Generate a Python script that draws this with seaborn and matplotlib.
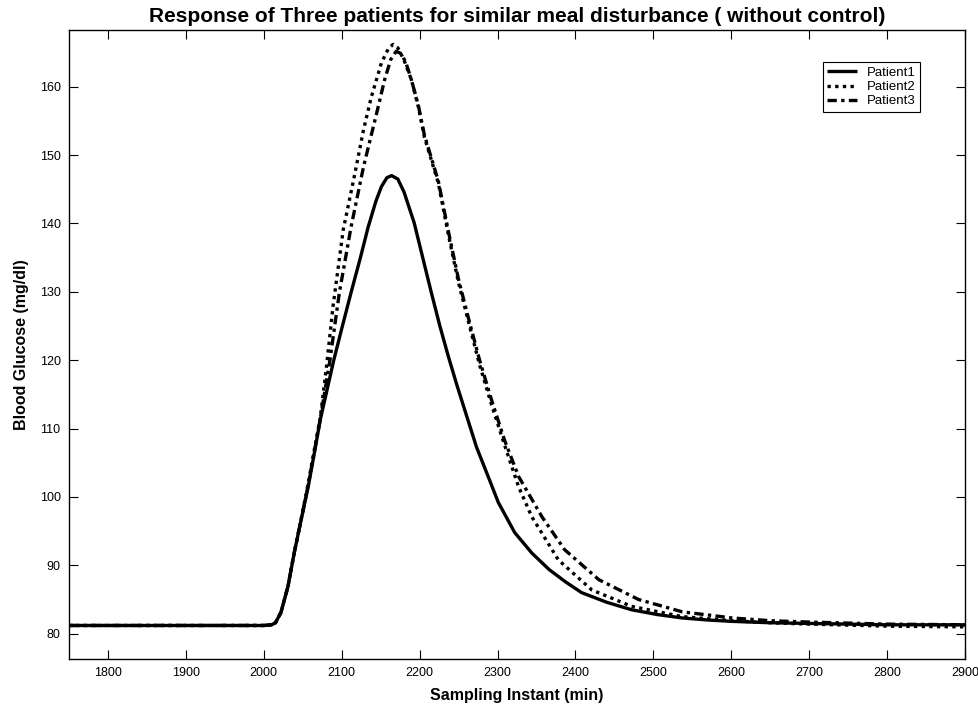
import matplotlib
matplotlib.use("Agg")
import matplotlib.pyplot as plt
import seaborn as sns
import pandas as pd

# ---- data ----
p1_x = [1750, 1850, 1950, 2000, 2010, 2015, 2022, 2031, 2039, 2048, 2057, 2065, 2072.5,
        2090, 2100, 2112, 2124, 2134, 2144, 2151, 2158, 2164, 2172, 2180, 2193, 2204,
        2215, 2226, 2237, 2248, 2258, 2273, 2290, 2301, 2322, 2344, 2366, 2387, 2408,
        2440, 2472, 2505, 2537, 2570, 2601, 2650, 2700, 2800, 2900]
p1_y = [81.2, 81.2, 81.2, 81.2, 81.3, 81.6, 83.1, 86.9, 91.8, 96.7, 101.5, 106.5, 111.3,
        120.1, 124.6, 129.9, 135.0, 139.5, 143.3, 145.4, 146.7, 147.0, 146.5, 144.6, 140.1, 135.0,
        129.9, 125.0, 120.5, 116.3, 112.7, 107.3, 102.4, 99.2, 94.8, 91.8, 89.4, 87.6, 86.0,
        84.6, 83.5, 82.8, 82.3, 82.0, 81.8, 81.6, 81.5, 81.3, 81.3]

p2_x = [1750, 1850, 1950, 2000, 2010, 2015, 2022, 2031, 2039, 2048, 2057, 2065, 2072.5,
        2080, 2089, 2102, 2116, 2128, 2138, 2151, 2160, 2166, 2172, 2180, 2189.5, 2198.5,
        2206, 2215, 2224, 2237, 2250, 2263, 2277, 2292, 2309, 2327, 2344, 2378, 2421,
        2472, 2537, 2601, 2650, 2700, 2800, 2900]
p2_y = [81.2, 81.2, 81.2, 81.2, 81.3, 81.6, 83.1, 86.9, 91.8, 96.8, 102.0, 107.0, 111.6,
        118.6, 128.0, 139.1, 146.8, 153.7, 158.5, 163.5, 165.6, 166.2, 165.7, 163.9, 161.0, 157.0,
        152.7, 149.3, 145.9, 138.3, 131.3, 125.5, 119.3, 113.6, 107.6, 101.5, 97.1, 90.8, 86.4,
        84.0, 82.5, 81.9, 81.6, 81.4, 81.1, 81.0]

p3_x = [1750, 1850, 1950, 2000, 2010, 2015, 2022, 2031, 2039, 2048, 2057, 2065, 2072.5,
        2085, 2097, 2112, 2128, 2145, 2155, 2163, 2170, 2177, 2183, 2189.5, 2198.5,
        2206, 2215, 2224, 2237, 2250, 2263, 2277, 2292, 2309, 2327, 2357, 2386, 2430,
        2481, 2537, 2601, 2650, 2700, 2800, 2900]
p3_y = [81.2, 81.2, 81.2, 81.2, 81.3, 81.6, 83.1, 86.9, 91.8, 96.7, 101.7, 106.7, 111.4,
        120.1, 129.9, 139.5, 148.3, 156.2, 161.0, 164.0, 165.2, 164.8, 163.3, 161.0, 157.2,
        153.0, 149.6, 146.2, 138.8, 131.8, 126.0, 120.0, 114.3, 108.3, 103.0, 97.1, 92.3, 87.9,
        85.0, 83.2, 82.3, 81.9, 81.7, 81.4, 81.3]

series_names = ["Patient1", "Patient2", "Patient3"]
x_ticks = [1800, 1900, 2000, 2100, 2200, 2300, 2400, 2500, 2600, 2700, 2800, 2900]
y_ticks = [80, 90, 100, 110, 120, 130, 140, 150, 160]

frames = []
for name, xs, ys in zip(series_names, [p1_x, p2_x, p3_x], [p1_y, p2_y, p3_y]):
    frames.append(pd.DataFrame({"t": xs, "bg": ys, "patient": name}))
df = pd.concat(frames, ignore_index=True)

# ---- style ----
sns.set_style("ticks", {"xtick.direction": "in", "ytick.direction": "in",
                        "text.color": "black", "axes.labelcolor": "black",
                        "xtick.color": "black", "ytick.color": "black",
                        "axes.edgecolor": "black"})
plt.rcParams["font.family"] = ["Liberation Sans", "DejaVu Sans"]

fig = plt.figure(figsize=(9.79, 7.06), dpi=100)
ax = fig.add_axes([0.0705, 0.0666, 0.9152, 0.8909])

lw = 2.4
dashes = {"Patient1": "", "Patient2": (1.0, 1.3), "Patient3": (2.8, 1.3, 1.0, 1.3)}
sns.lineplot(data=df, x="t", y="bg", hue="patient", style="patient",
             palette=["black", "black", "black"], dashes=dashes,
             linewidth=lw, ax=ax, sort=True, estimator=None)
for line in ax.get_lines():
    line.set_dash_capstyle("butt")
    line.set_solid_capstyle("butt")
    line.set_solid_joinstyle("round")

ax.set_xlim(1750, 2900)
ax.set_ylim(76.3, 168.3)
ax.set_xticks(x_ticks)
ax.set_yticks(y_ticks)
ax.tick_params(axis="both", which="both", direction="in", length=6.5, width=0.8,
               top=True, right=True, labelsize=9, pad=6, colors="black")
for sp in ax.spines.values():
    sp.set_visible(True)
    sp.set_linewidth(1.0)
    sp.set_color("black")

ax.set_title("Response of Three patients for similar meal disturbance ( without control)",
             fontsize=15, fontweight="bold", pad=6, color="black")
ax.set_xlabel("Sampling Instant (min)", fontsize=11.5, fontweight="bold", labelpad=6,
              color="black")
ax.set_ylabel("Blood Glucose (mg/dl)", fontsize=11.5, fontweight="bold", labelpad=8,
              color="black")

handles, labels = ax.get_legend_handles_labels()
leg = ax.legend(handles=handles, labels=labels, loc="upper right",
                bbox_to_anchor=(0.950, 0.949), fontsize=9.5, frameon=True,
                fancybox=False, edgecolor="black", framealpha=1,
                handlelength=2.3, handletextpad=0.7, borderpad=0.35,
                labelspacing=0.15, borderaxespad=0.0)
leg.get_frame().set_linewidth(0.8)
for lh in leg.get_lines():
    lh.set_linewidth(lw)
for t in leg.get_texts():
    t.set_color("black")

fig.savefig("out.png", dpi=100)
